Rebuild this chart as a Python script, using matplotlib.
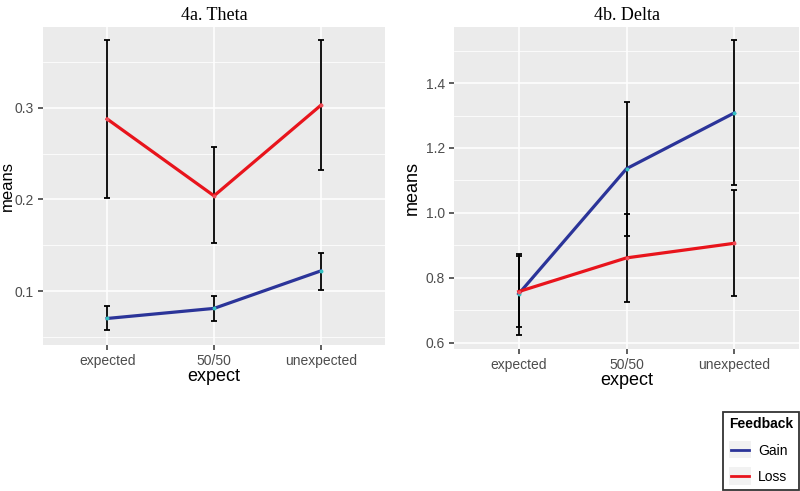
import numpy as np
import matplotlib
matplotlib.use('Agg')
import matplotlib.pyplot as plt
from matplotlib.ticker import MultipleLocator
from matplotlib.lines import Line2D
from matplotlib.patches import Rectangle
from matplotlib.legend_handler import HandlerBase

plt.rcParams['font.family'] = ['Liberation Sans', 'DejaVu Sans']

# data
conds = ['expected', '50/50', 'unexpected']

theta_gain = [0.070, 0.081, 0.122]
theta_gain_lo = [0.057, 0.067, 0.101]
theta_gain_hi = [0.084, 0.095, 0.142]
theta_loss = [0.288, 0.204, 0.303]
theta_loss_lo = [0.202, 0.153, 0.232]
theta_loss_hi = [0.374, 0.257, 0.374]

delta_gain = [0.750, 1.136, 1.308]
delta_gain_lo = [0.624, 0.930, 1.085]
delta_gain_hi = [0.872, 1.341, 1.533]
delta_loss = [0.757, 0.861, 0.906]
delta_loss_lo = [0.648, 0.725, 0.743]
delta_loss_hi = [0.867, 0.997, 1.070]

gain_col = '#2B3499'
loss_col = '#E8141C'
bg = '#EBEBEB'

fig = plt.figure(figsize=(8, 4.91), dpi=100)
axA = fig.add_axes([43/800, 1-345/491, 342/800, 318/491])
axB = fig.add_axes([454/800, 1-349/491, 345/800, 322/491])

def panel(ax, title, g, glo, ghi, l, llo, lhi, ylim, major, minor, ylab_x, ylab_size):
   x = np.arange(1, len(conds)+1)
   ax.set_facecolor(bg)
   for s in ax.spines.values():
      s.set_visible(False)
   ax.set_xlim(0.4, 3.6)
   ax.set_ylim(*ylim)
   ax.yaxis.set_major_locator(MultipleLocator(major))
   ax.yaxis.set_minor_locator(MultipleLocator(minor))
   ax.set_xticks(x)
   ax.set_xticklabels(conds)
   ax.grid(which='major', color='white', lw=1.1, zorder=0)
   ax.grid(which='minor', axis='y', color='white', lw=0.55, zorder=0)
   ax.set_axisbelow(True)
   ax.tick_params(which='major', length=3.5, width=1.1, color='#333333',
                  labelsize=10, labelcolor='#4D4D4D', pad=3)
   ax.tick_params(which='minor', length=0)
   ax.errorbar(x, g, yerr=[np.subtract(g, glo), np.subtract(ghi, g)],
               fmt='none', ecolor='black', elinewidth=1.3, capsize=2.5, capthick=1.3, zorder=2)
   ax.errorbar(x, l, yerr=[np.subtract(l, llo), np.subtract(lhi, l)],
               fmt='none', ecolor='black', elinewidth=1.3, capsize=2.5, capthick=1.3, zorder=2)
   ax.plot(x, g, color=gain_col, lw=2.3, zorder=3)
   ax.plot(x, l, color=loss_col, lw=2.3, zorder=3)
   ax.scatter(x, g, s=8, color='#36C2C2', zorder=4, lw=0)
   ax.scatter(x, l, s=8, color='#F0505A', zorder=4, lw=0)
   ax.set_xlabel('expect', fontsize=13, labelpad=0)
   ax.set_ylabel('means', fontsize=ylab_size)
   ax.yaxis.set_label_coords(ylab_x, 0.5)
   ax.set_title(title, family='Liberation Serif', fontsize=13, pad=5)

panel(axA, '4a. Theta', theta_gain, theta_gain_lo, theta_gain_hi,
      theta_loss, theta_loss_lo, theta_loss_hi, (0.041, 0.3885), 0.1, 0.05, -0.082, 12)
panel(axB, '4b. Delta', delta_gain, delta_gain_lo, delta_gain_hi,
      delta_loss, delta_loss_lo, delta_loss_hi, (0.58, 1.573), 0.2, 0.1, -0.095, 13)

# legend keys with grey boxes like ggplot
class KeyHandler(HandlerBase):
   def create_artists(self, legend, orig, xd, yd, w, h, fontsize, trans):
      box = Rectangle((xd, yd - 0.4*h), w, 1.8*h, facecolor='#F2F2F2',
                      edgecolor='none', transform=trans)
      ln = Line2D([xd + 0.1*w, xd + 0.9*w], [yd + h/2, yd + h/2],
                  color=orig.get_color(), lw=2, transform=trans)
      return [box, ln]

handles = [Line2D([], [], color=gain_col, lw=2),
           Line2D([], [], color=loss_col, lw=2)]
leg = fig.legend(handles, ['Gain', 'Loss'], title='Feedback',
                 loc='lower right', bbox_to_anchor=(1.0, 0.0),
                 fontsize=10, title_fontsize=10, handlelength=1.6,
                 handler_map={Line2D: KeyHandler()},
                 frameon=True, fancybox=False, edgecolor='black',
                 borderpad=0.4, borderaxespad=0.1, labelspacing=0.9,
                 handletextpad=0.5, alignment='left')
leg.get_title().set_fontweight('bold')
leg.get_frame().set_linewidth(1.3)

fig.savefig('out.png', dpi=100)
